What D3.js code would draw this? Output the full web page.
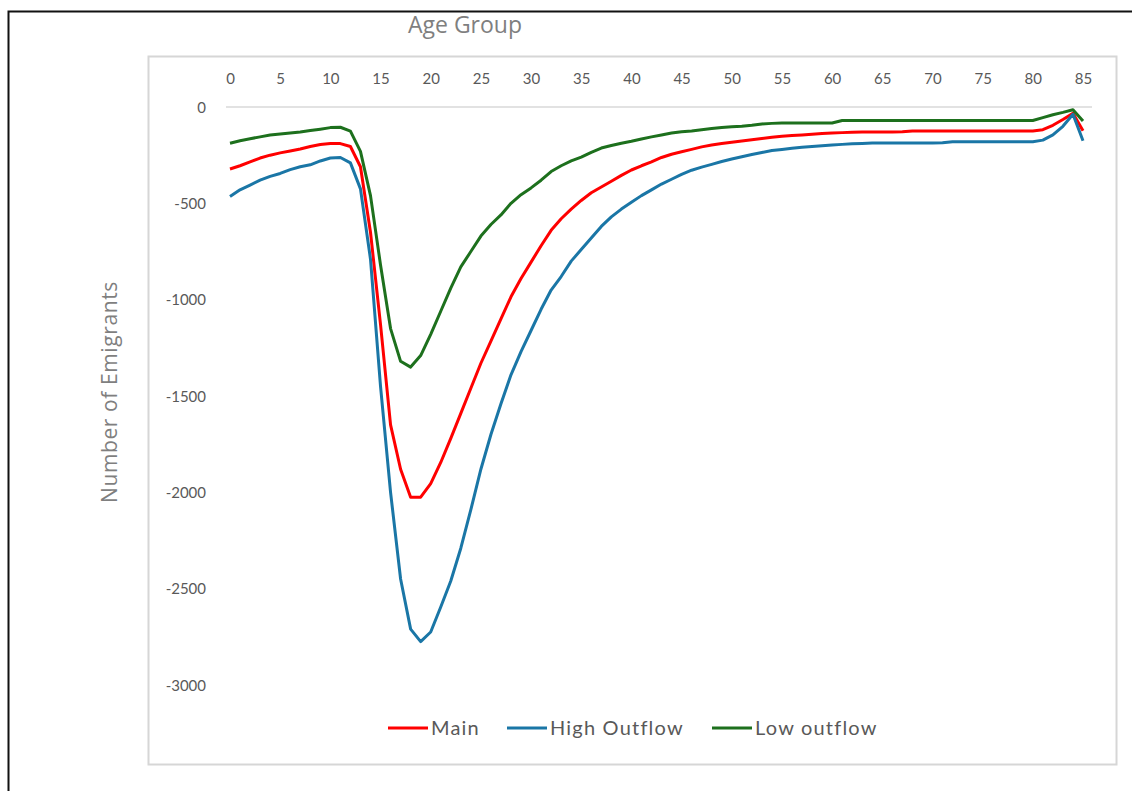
<!DOCTYPE html>
<html>
<head>
<meta charset="utf-8">
<script src="https://cdn.jsdelivr.net/npm/d3@7"></script>
<style>
  html, body { margin: 0; background: #fff; overflow: hidden; }
  svg { display: block; }
</style>
</head>
<body>
<script>

// ages 0..85
var ages = d3.range(0, 86);

var mainSeries = [
  -322, -305, -285, -265, -250, -238, -228, -218, -205, -195,
  -190, -190, -205, -310, -650, -1130, -1650, -1880, -2025, -2025,
  -1955, -1845, -1720, -1590, -1460, -1330, -1215, -1100, -985, -890,
  -805, -720, -640, -580, -530, -485, -445, -415, -385, -355,
  -327, -305, -285, -262, -245, -232, -220, -207, -197, -190,
  -183, -176, -170, -163, -157, -152, -148, -145, -141, -137,
  -135, -133, -131, -130, -130, -130, -130, -128, -124, -124,
  -124, -124, -124, -124, -124, -124, -124, -124, -124, -124,
  -124, -118, -95, -65, -33, -123
];

var highSeries = [
  -465, -430, -405, -380, -360, -345, -325, -310, -300, -280,
  -265, -262, -290, -425, -790, -1450, -2000, -2450, -2710, -2775,
  -2725, -2595, -2460, -2290, -2090, -1880, -1700, -1540, -1390, -1270,
  -1160, -1050, -950, -880, -800, -740, -680, -620, -570, -530,
  -495, -460, -430, -400, -375, -350, -328, -312, -298, -283,
  -270, -258, -247, -236, -226, -220, -214, -209, -205, -201,
  -197, -194, -191, -189, -187, -187, -187, -187, -187, -187,
  -187, -185, -180, -180, -180, -180, -180, -180, -180, -180,
  -180, -172, -145, -100, -38, -175
];

var lowSeries = [
  -188, -175, -165, -155, -145, -140, -135, -130, -122, -115,
  -107, -105, -125, -230, -460, -820, -1150, -1320, -1350, -1290,
  -1180, -1060, -940, -830, -750, -670, -610, -560, -500, -455,
  -420, -380, -335, -305, -280, -260, -235, -213, -200, -188,
  -178, -166, -155, -145, -135, -128, -124, -118, -112, -106,
  -103, -100, -95, -88, -85, -83, -83, -83, -83, -83,
  -83, -70, -70, -70, -70, -70, -70, -70, -70, -70,
  -70, -70, -70, -70, -70, -70, -70, -70, -70, -70,
  -70, -55, -40, -28, -14, -73
];

var seriesNames = ["Main", "High Outflow", "Low outflow"];
var seriesColors = ["#ff0000", "#1a76a6", "#1d701d"];

var xTicks = d3.range(0, 86, 5);
var yTicks = [0, -500, -1000, -1500, -2000, -2500, -3000];

var svgWidth = 1132;
var svgHeight = 791;

var svg = d3.select("body")
            .append("svg")
            .attr("width", svgWidth)
            .attr("height", svgHeight);

// outer frame (only top and left edges show in the picture)
svg.append("path")
   .attr("d", "M8.5,791 L8.5,11.5 L1132,11.5")
   .attr("fill", "none")
   .attr("stroke", "#111")
   .attr("stroke-width", 2);

// plot box
svg.append("rect")
   .attr("x", 148.5)
   .attr("y", 56.5)
   .attr("width", 968)
   .attr("height", 708)
   .attr("fill", "#fff")
   .attr("stroke", "#d6d6d6")
   .attr("stroke-width", 2);

var xScale = d3.scaleLinear()
            .domain([0, 85])
            .range([230, 1083]);

var yScale = d3.scaleLinear()
            .domain([0, -3000])
            .range([107, 685]);

// zero line
svg.append("line")
   .attr("x1", 226)
   .attr("x2", 1092)
   .attr("y1", yScale(0))
   .attr("y2", yScale(0))
   .attr("stroke", "#d9d9d9")
   .attr("stroke-width", 1.5);

// axes
var plainNum = function(d) { return String(d); };
var topAxis = d3.axisTop(xScale).tickValues(xTicks).tickSize(0).tickPadding(0).tickFormat(plainNum);
var leftAxis = d3.axisLeft(yScale).tickValues(yTicks).tickSize(0).tickPadding(0).tickFormat(plainNum);

var gx = svg.append("g")
            .attr("transform", "translate(0, 84)")
            .call(topAxis);
gx.select(".domain").remove();
gx.selectAll("text")
  .attr("fill", "#595959")
  .style("font-family", "Lato, 'Open Sans', sans-serif")
  .style("font-size", "15px");

var gy = svg.append("g")
            .attr("transform", "translate(206, 0)")
            .call(leftAxis);
gy.select(".domain").remove();
gy.selectAll("text")
  .attr("fill", "#595959")
  .attr("dy", "0.35em")
  .style("font-family", "Lato, 'Open Sans', sans-serif")
  .style("font-size", "15px");

// lines, red first so green ends on top
var allSeries = [mainSeries, highSeries, lowSeries];

var line = d3.line()
             .x(function(d, i) { return xScale(ages[i]); })
             .y(function(d) { return yScale(d); });

svg.selectAll(".series")
   .data(allSeries)
   .enter()
   .append("path")
   .attr("class", "series")
   .attr("d", line)
   .attr("fill", "none")
   .attr("stroke", function(d, i) { return seriesColors[i]; })
   .attr("stroke-width", 3)
   .attr("stroke-linejoin", "round");

// titles
svg.append("text")
   .attr("x", 465)
   .attr("y", 33)
   .attr("text-anchor", "middle")
   .attr("fill", "#7f7f7f")
   .style("font-family", "'Open Sans', sans-serif")
   .style("font-size", "23px")
   .text("Age Group");

svg.append("text")
   .attr("transform", "translate(117, 392) rotate(-90)")
   .attr("text-anchor", "middle")
   .attr("fill", "#7f7f7f")
   .style("font-family", "'Open Sans', sans-serif")
   .style("font-size", "21px")
   .style("letter-spacing", "0.6px")
   .text("Number of Emigrants");

// legend
var legendX = [388, 507, 712];
var legend = svg.selectAll(".legend")
                .data(seriesNames)
                .enter()
                .append("g")
                .attr("class", "legend")
                .attr("transform", function(d, i) { return "translate(" + legendX[i] + ", 728)"; });

legend.append("line")
      .attr("x1", 0)
      .attr("x2", 40)
      .attr("stroke", function(d, i) { return seriesColors[i]; })
      .attr("stroke-width", 3);

legend.append("text")
      .attr("x", 43)
      .attr("dy", "0.35em")
      .attr("fill", "#595959")
      .style("font-family", "Lato, sans-serif")
      .style("font-size", "20px")
      .style("letter-spacing", "1.2px")
      .text(function(d) { return d; });

</script>
</body>
</html>
